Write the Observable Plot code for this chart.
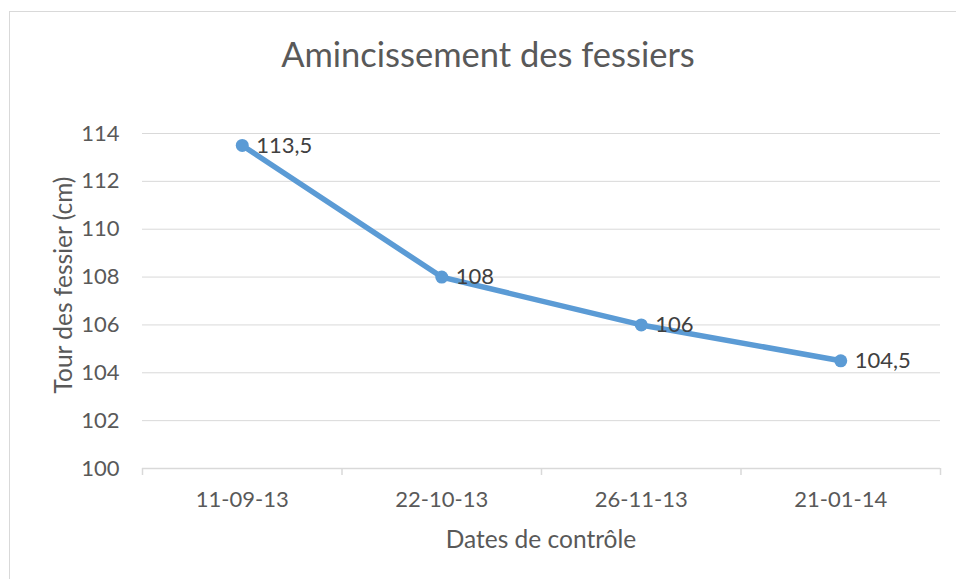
<!DOCTYPE html>
<html><head><meta charset="utf-8">
<script src="https://cdn.jsdelivr.net/npm/d3@7"></script>
<script src="https://cdn.jsdelivr.net/npm/@observablehq/plot@0.6"></script>
<style>
body{margin:0;background:#fff;font-family:Lato,"Open Sans",sans-serif;}
#wrap{position:relative;width:956px;height:579px;overflow:hidden;background:#fff;}
#frame{position:absolute;left:9px;top:11px;width:980px;height:620px;border:1px solid #d9d9d9;box-sizing:border-box;}
#title{position:absolute;left:188px;width:600px;top:33px;text-align:center;font-size:34.5px;color:#595959;}
#ytitle{position:absolute;left:62px;top:285px;transform:translate(-50%,-50%) rotate(-90deg);white-space:nowrap;font-size:24.5px;color:#595959;}
#xtitle{position:absolute;left:142px;width:798px;top:524px;text-align:center;font-size:24.5px;color:#595959;}
#chart{position:absolute;left:0;top:0;}
</style></head>
<body><div id="wrap"><div id="frame"></div><div id="chart"></div>
<div id="title">Amincissement des fessiers</div>
<div id="ytitle">Tour des fessier (cm)</div>
<div id="xtitle">Dates de contrôle</div></div>
<script>
const dates = ["11-09-13", "22-10-13", "26-11-13", "21-01-14"];
const tour = [113.5, 108, 106, 104.5];
const labels = ["113,5", "108", "106", "104,5"];
const yTicks = [100, 102, 104, 106, 108, 110, 112, 114];

const data = dates.map((d, i) => ({i, date: d, v: tour[i], label: labels[i]}));
const centers = dates.map((d, i) => i);
const bounds = d3.range(-0.5, dates.length, 1);

const plot = Plot.plot({
  width: 956, height: 579,
  marginLeft: 142, marginRight: 16, marginTop: 133, marginBottom: 111,
  style: {fontFamily: "Lato, 'Open Sans', sans-serif", fontSize: "22px", color: "#595959", background: "transparent"},
  x: {type: "linear", domain: [-0.5, dates.length - 0.5]},
  y: {domain: [100, 114]},
  marks: [
    Plot.ruleY(yTicks.filter(t => t > 100), {stroke: "#d9d9d9", strokeWidth: 1, strokeOpacity: 1}),
    Plot.ruleY([100], {stroke: "#d9d9d9", strokeWidth: 1.5, strokeOpacity: 1}),
    Plot.axisX({ticks: bounds, tickSize: 7, tickFormat: () => "", stroke: "#d9d9d9", strokeWidth: 1.5, strokeOpacity: 1, label: null}),
    Plot.axisX({ticks: centers, tickSize: 0, tickPadding: 23, tickFormat: i => dates[i], fill: "#595959", label: null}),
    Plot.axisY({ticks: yTicks, tickSize: 0, tickPadding: 23, fill: "#595959", label: null}),
    Plot.line(data, {x: "i", y: "v", stroke: "#5b9bd5", strokeWidth: 5.5, strokeLinejoin: "round", strokeLinecap: "round"}),
    Plot.dot(data, {x: "i", y: "v", r: 6.5, fill: "#5b9bd5", stroke: "none"}),
    Plot.text(data, {x: "i", y: "v", text: "label", textAnchor: "start", dx: 14, fill: "#404040"})
  ]
});
document.getElementById("chart").appendChild(plot);
</script></body></html>
